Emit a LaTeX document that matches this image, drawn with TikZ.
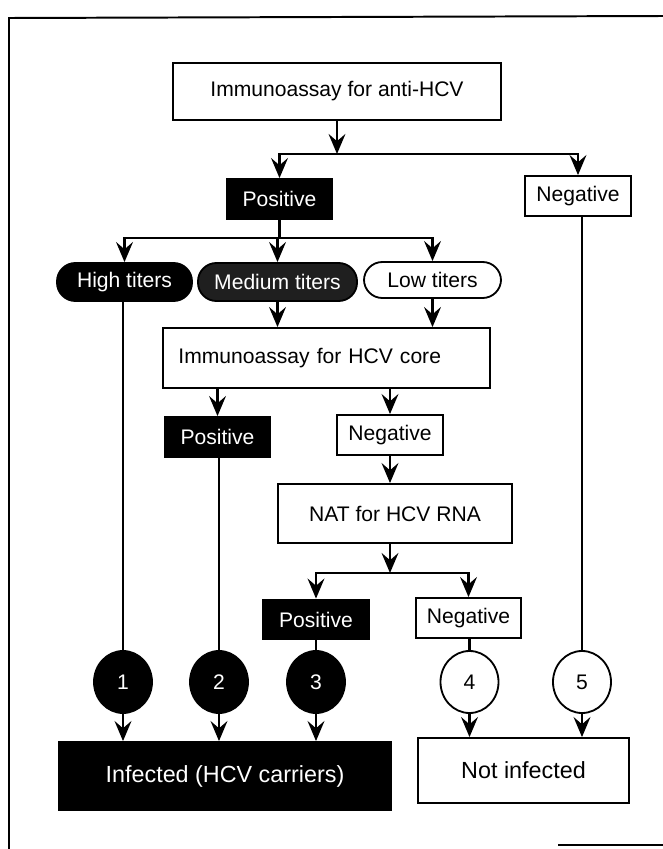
\documentclass[tikz,border=0pt]{standalone}
\usepackage{fontspec}
\setmainfont{Liberation Sans}
\usepackage{tikz}
\usetikzlibrary{shapes.geometric, arrows.meta}

\tikzstyle{assay} = [rectangle, draw=black, line width=1.3pt, fill=white, inner sep=0pt, font=\fontsize{15}{18}\selectfont]
\tikzstyle{positive} = [rectangle, draw=black, line width=1.3pt, fill=black, text=white, minimum width=2.63cm, minimum height=1cm, inner sep=0pt, font=\fontsize{15}{18}\selectfont]
\tikzstyle{negative} = [rectangle, draw=black, line width=1.3pt, fill=white, minimum width=2.63cm, minimum height=1cm, inner sep=0pt, font=\fontsize{15}{18}\selectfont]
\tikzstyle{titer} = [rectangle, rounded corners=0.46cm, draw=black, line width=1.3pt, minimum height=0.95cm, inner sep=0pt, font=\fontsize{15}{18}\selectfont]
\tikzstyle{case} = [ellipse, draw=black, line width=1.3pt, minimum width=1.45cm, minimum height=1.55cm, inner sep=0pt, font=\fontsize{15}{18}\selectfont]
\tikzstyle{outcome} = [rectangle, draw=black, line width=1.3pt, minimum height=1.7cm, inner sep=0pt, font=\fontsize{16.6}{20}\selectfont]
\tikzstyle{link} = [line width=1.9pt]
\tikzstyle{arrow} = [line width=1.9pt, -{Stealth[length=5mm, width=4.2mm, inset=1.8mm]}]

\begin{document}
\begin{tikzpicture}[x=0.025cm, y=-0.025cm]
\useasboundingbox (0,0) rectangle (663,849);

% frame
\draw [line width=1.4pt] (9,849) -- (9,18) -- (663,16);
\draw [line width=1.4pt] (558,845) -- (663,845);

\node (antiHCV) [assay, minimum width=8.2cm, minimum height=1.425cm] at (337,91.5) {Immunoassay for anti-HCV};
\node (posA) [positive] at (279.5,199) {Positive};
\node (negA) [negative] at (578,196) {Negative};
\node (high) [titer, fill=black, text=white, minimum width=3.375cm] at (124.5,282) {High titers};
\node (medium) [titer, fill=black!88, text=white, minimum width=3.975cm] at (277.5,282) {Medium titers};
\node (low) [titer, fill=white, minimum width=3.425cm, minimum height=0.9cm] at (432.5,280) {Low titers};
\node (core) [assay, minimum width=8.175cm, minimum height=1.5cm, text width=7.4cm, align=left] at (326.5,358) {Immunoassay for HCV core};
\node (posB) [positive] at (217.5,437) {Positive};
\node (negB) [negative] at (390,435) {Negative};
\node (nat) [assay, minimum width=5.85cm, minimum height=1.475cm] at (395,513.5) {NAT for HCV RNA};
\node (posC) [positive] at (316,619.5) {Positive};
\node (negC) [negative] at (468.5,618) {Negative};

\node (c1) [case, fill=black, text=white] at (123,682) {1};
\node (c2) [case, fill=black, text=white] at (219,682) {2};
\node (c3) [case, fill=black, text=white] at (316,682) {3};
\node (c4) [case, fill=white] at (469.5,682) {4};
\node (c5) [case, fill=white] at (582,682) {5};

\node (infected) [outcome, fill=black, text=white, minimum width=8.3cm] at (225,776) {Infected (HCV carriers)};
\node (notinf) [outcome, fill=white, minimum width=5.275cm, minimum height=1.625cm] at (523.5,770.5) {Not infected};

\coordinate (splitA) at (337,154);
\coordinate (splitB) at (279.5,238);
\coordinate (splitC) at (390,573);

% first assay
\draw [arrow] (antiHCV) -- (splitA);
\draw [arrow] (splitA) -| (posA);
\draw [arrow] (splitA) -| (negA);

% titers
\draw [link] (posA) -- (splitB);
\draw [arrow] (splitB) -| (high);
\draw [arrow] (splitB) -| (medium);
\draw [arrow] (splitB) -| (low);
\draw [arrow] (medium) -- (medium |- core.north);
\draw [arrow] (low) -- (low |- core.north);

% core assay
\draw [arrow] (core.south -| posB) -- (posB);
\draw [arrow] (core.south -| negB) -- (negB);
\draw [arrow] (negB) -- (negB |- nat.north);

% NAT
\draw [arrow] (nat.south -| splitC) -- (splitC);
\draw [arrow] (splitC) -| (posC);
\draw [arrow] (splitC) -| (negC);

% cases
\draw [link] (high.south -| c1) -- (c1);
\draw [link] (posB.south -| c2) -- (c2);
\draw [link] (posC) -- (c3);
\draw [link] (negC.south -| c4) -- (c4);
\draw [link] (negA.south -| c5) -- (c5);

\draw [arrow] (c1) -- (c1 |- infected.north);
\draw [arrow] (c2) -- (c2 |- infected.north);
\draw [arrow] (c3) -- (c3 |- infected.north);
\draw [arrow] (c4) -- (c4 |- notinf.north);
\draw [arrow] (c5) -- (c5 |- notinf.north);

\end{tikzpicture}
\end{document}
